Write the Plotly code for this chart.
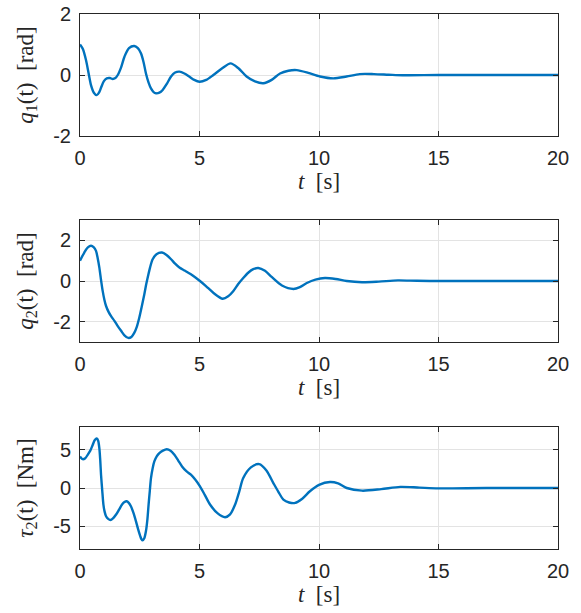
import plotly.graph_objects as go

# ---- data ----
t_q1 = [0, 0.12, 0.25, 0.36, 0.46, 0.58, 0.70, 0.80, 0.88, 1.0, 1.12, 1.25, 1.37, 1.48, 1.58,
        1.72, 1.86, 2.05, 2.27, 2.42, 2.55, 2.66, 2.76, 2.87, 2.97, 3.08, 3.18, 3.32, 3.46,
        3.64, 3.81, 3.98, 4.16, 4.37, 4.57, 4.78, 5.0, 5.28, 5.58, 5.95, 6.3, 6.63, 6.97,
        7.32, 7.67, 8.02, 8.37, 8.72, 9.07, 9.55, 10.04, 10.6, 11.15, 11.7, 12.3, 12.9,
        13.5, 15, 17, 20]
q1 = [1.0, 0.85, 0.49, 0.06, -0.33, -0.58, -0.66, -0.57, -0.42, -0.2, -0.11, -0.1, -0.13,
      -0.1, 0.0, 0.25, 0.6, 0.88, 0.95, 0.88, 0.71, 0.42, 0.05, -0.25, -0.44, -0.56, -0.6,
      -0.58, -0.49, -0.28, -0.05, 0.08, 0.11, 0.05, -0.05, -0.16, -0.22, -0.16, 0.0, 0.22,
      0.38, 0.22, -0.05, -0.21, -0.27, -0.16, 0.05, 0.14, 0.16, 0.07, -0.05, -0.11, -0.05,
      0.03, 0.03, 0.01, -0.01, 0.0, 0.0, 0.0]

t_q2 = [0, 0.18, 0.33, 0.46, 0.58, 0.67, 0.74, 0.81, 0.88, 0.95, 1.02, 1.09, 1.2, 1.3, 1.44,
        1.58, 1.72, 1.86, 2.02, 2.15, 2.27, 2.38, 2.48, 2.58, 2.69, 2.76, 2.83, 2.93, 3.04,
        3.2, 3.43, 3.62, 3.81, 3.98, 4.16, 4.4, 4.64, 4.83, 5.02, 5.27, 5.6, 5.97, 6.2,
        6.41, 6.62, 6.83, 7.05, 7.25, 7.46, 7.74, 8.02, 8.45, 8.93, 9.2, 9.49, 9.85, 10.25,
        10.7, 11.16, 11.8, 12.5, 13.3, 14.1, 15, 17, 20]
q2 = [1.0, 1.4, 1.65, 1.73, 1.65, 1.48, 1.12, 0.66, 0.05, -0.5, -0.92, -1.23, -1.53, -1.73,
      -1.96, -2.22, -2.45, -2.67, -2.8, -2.75, -2.55, -2.24, -1.81, -1.28, -0.66, -0.22,
      0.16, 0.66, 1.07, 1.32, 1.4, 1.28, 1.07, 0.85, 0.66, 0.5, 0.33, 0.17, 0.0, -0.25,
      -0.6, -0.87, -0.75, -0.5, -0.15, 0.15, 0.42, 0.58, 0.64, 0.5, 0.2, -0.22, -0.39,
      -0.3, -0.1, 0.07, 0.15, 0.1, 0.0, -0.06, -0.03, 0.03, 0.01, 0.0, 0.0, 0.0]

t_tau = [0, 0.11, 0.22, 0.32, 0.43, 0.53, 0.62, 0.7, 0.76, 0.81, 0.85, 0.88, 0.93, 0.98,
         1.03, 1.09, 1.18, 1.27, 1.39, 1.51, 1.64, 1.76, 1.86, 1.95, 2.04, 2.13, 2.24, 2.34,
         2.43, 2.52, 2.57, 2.62, 2.69, 2.76, 2.82, 2.87, 2.92, 2.97, 3.04, 3.11, 3.21, 3.32,
         3.47, 3.63, 3.79, 3.95, 4.11, 4.27, 4.45, 4.64, 4.82, 5.0, 5.22, 5.44, 5.75, 6.07,
         6.28, 6.49, 6.66, 6.83, 7.15, 7.5, 7.8, 8.09, 8.3, 8.51, 8.75, 9.0, 9.3, 9.62, 10.0,
         10.46, 10.8, 11.16, 11.8, 12.6, 13.4, 14.2, 15, 17, 20]
tau2 = [4.13, 3.78, 3.9, 4.35, 4.9, 5.65, 6.3, 6.5, 6.2, 5.2, 3.5, 1.74, -0.3, -2.17, -3.1,
        -3.7, -4.05, -4.2, -3.95, -3.48, -2.8, -2.17, -1.85, -1.74, -1.95, -2.4, -3.3, -4.35,
        -5.4, -6.3, -6.7, -6.87, -6.6, -5.65, -4.1, -2.17, -0.4, 1.3, 2.6, 3.48, 4.15, 4.57,
        4.9, 5.09, 4.9, 4.35, 3.6, 2.83, 2.2, 1.74, 1.1, 0.3, -0.9, -2.17, -3.3, -3.83, -3.45,
        -2.17, -0.5, 1.3, 2.7, 3.13, 2.3, 0.65, -0.5, -1.52, -1.9, -1.96, -1.4, -0.43, 0.4,
        0.78, 0.6, 0.0, -0.35, -0.15, 0.15, 0.05, -0.05, 0.0, 0.0]

x_ticks = [0, 5, 10, 15, 20]
x_ticktext = ["0", "5", "10", "15", "20"]
y1_ticks = [-2, 0, 2]
y1_ticktext = ["-2", "0", "2"]
y2_ticks = [-2, 0, 2]
y2_ticktext = ["-2", "0", "2"]
y3_ticks = [-5, 0, 5]
y3_ticktext = ["-5", "0", "5"]

sp = "\u00a0\u00a0"
y_titles = ["<i>q</i><sub>1</sub>(t)" + sp + "[rad]",
            "<i>q</i><sub>2</sub>(t)" + sp + "[rad]",
            "<i>τ</i><sub>2</sub>(t)" + sp + "[Nm]"]
x_title = "<i>t</i>\u00a0\u00a0[s]"

# ---- figure ----
blue = "#0072BD"
axcol = "#262626"
gridcol = "#e3e3e3"
tickfont = dict(family="Liberation Sans, Arial, sans-serif", size=20, color=axcol)
titlefont = dict(family="Liberation Serif, Times New Roman, serif", size=23, color=axcol)

fig = go.Figure()
series = [(t_q1, q1), (t_q2, q2), (t_tau, tau2)]
for i, (tx, ty) in enumerate(series):
    sfx = "" if i == 0 else str(i + 1)
    fig.add_trace(go.Scatter(x=tx, y=ty, mode="lines", xaxis="x" + sfx, yaxis="y" + sfx,
                             line=dict(color=blue, width=2.4, shape="spline", smoothing=0.8),
                             hoverinfo="skip", showlegend=False))

# pixel positions: plot1 14-136, plot2 220-342, plot3 427-549 (of 613)
top_m, bot_m = 14, 64
H = 613 - top_m - bot_m
def dom(y_top, y_bot):
    return [(613 - bot_m - y_bot) / H, (613 - bot_m - y_top) / H]

domains = [dom(14, 136), dom(220, 342), dom(427, 549)]
yranges = [[-2, 2], [-3, 3], [-8, 8]]
yticks = [(y1_ticks, y1_ticktext), (y2_ticks, y2_ticktext), (y3_ticks, y3_ticktext)]

common = dict(showline=True, linecolor=axcol, linewidth=1, mirror="ticks", ticks="inside",
              ticklen=5, tickcolor=axcol, showgrid=True, gridcolor=gridcol, gridwidth=1,
              zeroline=False, tickfont=tickfont, ticklabelstandoff=4, automargin=False)

layout = dict(width=581, height=613, plot_bgcolor="white", paper_bgcolor="white",
              margin=dict(l=80, r=23, t=top_m, b=bot_m), showlegend=False)
for i in range(3):
    sfx = "" if i == 0 else str(i + 1)
    layout["xaxis" + sfx] = dict(common, domain=[0, 1], anchor="y" + sfx, range=[0, 20],
                                 tickvals=x_ticks, ticktext=x_ticktext,
                                 title=dict(text=x_title, font=titlefont, standoff=2))
    layout["yaxis" + sfx] = dict(common, domain=domains[i], anchor="x" + sfx, range=yranges[i],
                                 tickvals=yticks[i][0], ticktext=yticks[i][1],
                                 title=dict(text=y_titles[i], font=titlefont, standoff=13))
fig.update_layout(**layout)
fig.write_html("out.html", config={"displayModeBar": False},
               post_script="document.body.style.margin='0';document.body.style.overflow='hidden';")
